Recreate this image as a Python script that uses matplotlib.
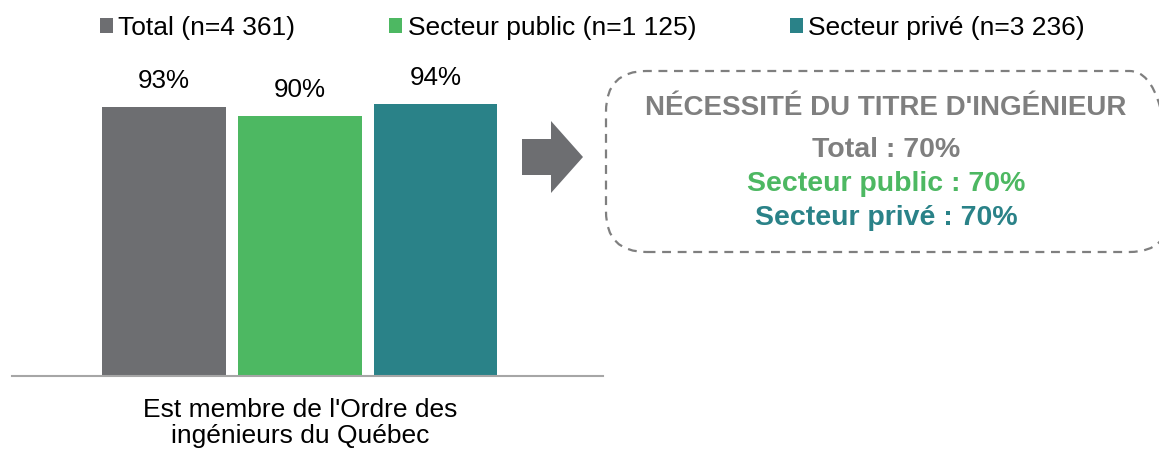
import matplotlib
matplotlib.use("Agg")
import matplotlib.pyplot as plt
from matplotlib.patches import Patch, Polygon, FancyBboxPatch

plt.rcParams["font.family"] = ["Liberation Sans", "DejaVu Sans"]

# data
series = ["Total (n=4 361)", "Secteur public (n=1 125)", "Secteur privé (n=3 236)"]
values = [93, 90, 94]
colors = ["#6d6e71", "#4db862", "#2a8288"]
category = "Est membre de l'Ordre des\ningénieurs du Québec"

box_title = "NÉCESSITÉ DU TITRE D'INGÉNIEUR"
box_labels = ["Total", "Secteur public", "Secteur privé"]
box_values = [70, 70, 70]
box_colors = ["#7f7f7f", "#4db862", "#2a8288"]

W, H = 1159, 451
fig = plt.figure(figsize=(W / 100, H / 100), dpi=100)


def fx(px):
    return px / W


def fy(py):
    return 1 - py / H


ax = fig.add_axes([fx(12), fy(376), fx(603) - fx(12), fy(87) - fy(376)])
offsets = [-1, 0, 1]
bars = ax.bar(offsets, values, width=0.91, color=colors)
ax.set_ylim(0, 100)
ax.set_xlim(-2.118, 2.232)

for b, v in zip(bars, values):
    ax.annotate(f"{v}%", (b.get_x() + b.get_width() / 2, v), xytext=(0, 19),
                textcoords="offset points", ha="center", va="center", fontsize=18.7)

for s in ["top", "right", "left"]:
    ax.spines[s].set_visible(False)
ax.spines["bottom"].set_color("#a6a6a6")
ax.spines["bottom"].set_linewidth(1.5)
ax.set_yticks([])
ax.set_xticks([0])
ax.set_xticklabels([category], fontsize=19, linespacing=1.08)
ax.tick_params(axis="x", length=0, pad=16)

handles = [Patch(facecolor=c, edgecolor="none") for c in colors]
fig.legend(handles, series, loc="upper left", bbox_to_anchor=(fx(100), fy(16)),
           ncol=3, frameon=False, fontsize=19, handlelength=0.5, handleheight=0.5,
           handletextpad=0.2, columnspacing=3.55, borderpad=0, borderaxespad=0)

# arrow
arrow = Polygon([(fx(522), fy(139)), (fx(551), fy(139)), (fx(551), fy(121)),
                 (fx(583), fy(157)), (fx(551), fy(193)), (fx(551), fy(175)),
                 (fx(522), fy(175))], closed=True, transform=fig.transFigure,
                facecolor="#6d6e71", edgecolor="none")
fig.patches.append(arrow)

# dashed box
box = FancyBboxPatch((fx(606), fy(252)), fx(1170) - fx(606), fy(71) - fy(252),
                     boxstyle="round,pad=0,rounding_size=0.035", transform=fig.transFigure,
                     facecolor="none", edgecolor="#7f7f7f", linewidth=1.6,
                     linestyle=(0, (4, 3)), mutation_aspect=W / H)
fig.patches.append(box)

cx = fx(886)
fig.text(cx, fy(115), box_title, ha="center", va="baseline", fontsize=20,
         fontweight="bold", color="#7f7f7f")
for lab, v, c, py in zip(box_labels, box_values, box_colors, [157, 191, 225]):
    fig.text(cx, fy(py), f"{lab} : {v}%", ha="center", va="baseline", fontsize=20.5,
             fontweight="bold", color=c)

fig.savefig("out.png", dpi=100)
